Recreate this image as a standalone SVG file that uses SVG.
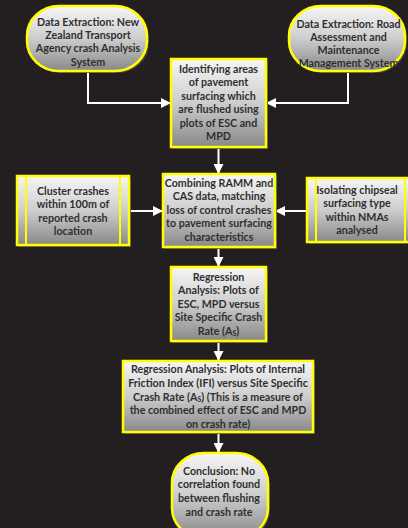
<svg xmlns="http://www.w3.org/2000/svg" width="408" height="528" viewBox="0 0 408 528">
<defs>
<linearGradient id="g" x1="0" y1="0" x2="0" y2="1">
<stop offset="0" stop-color="#f6f6f6"/>
<stop offset="0.5" stop-color="#cdcdcd"/>
<stop offset="1" stop-color="#888888"/>
</linearGradient>
<marker id="ah" viewBox="0 0 10 10" refX="10" refY="5" markerWidth="5" markerHeight="5" orient="auto" markerUnits="strokeWidth">
<path d="M0 0 L10 5 L0 10 Z" fill="#ffffff"/>
</marker>
<style>
.box{fill:url(#g);stroke:#ffff00;stroke-width:2.5}
.sh{fill:#474747}
.div{stroke:#ffff00;stroke-width:2}
.t{font-family:Lato,"Liberation Sans",sans-serif;font-weight:bold;font-size:10.7px;fill:#2f2f2f;text-anchor:middle}
.sub{font-size:7px}
.c{fill:none;stroke:#ffffff;stroke-width:2;marker-end:url(#ah)}
</style>
</defs>
<rect width="408" height="528" fill="#231f20"/>
<g id="connectors">
<path class="c" d="M88 71 V103 H171"/>
<path class="c" d="M348 71 V103 H266"/>
<path class="c" d="M218.5 147 V174"/>
<path class="c" d="M129 211 H163"/>
<path class="c" d="M307 211 H275"/>
<path class="c" d="M218.5 247 V267"/>
<path class="c" d="M218.5 341 V361"/>
<path class="c" d="M218.5 432 V453"/>
</g>
<g id="n1">
<rect class="sh" x="29" y="8" width="120" height="65" rx="32" ry="30"/>
<rect class="box" x="27" y="6" width="120" height="65" rx="32" ry="30"/>
<text class="t" x="88" y="25.8"><tspan x="88">Data Extraction: New</tspan><tspan x="88" dy="13.3">Zealand Transport</tspan><tspan x="88" dy="13.3">Agency crash Analysis</tspan><tspan x="88" dy="13.3">System</tspan></text>
</g>
<g id="n2">
<rect class="sh" x="291" y="8" width="116" height="65" rx="32" ry="30"/>
<rect class="box" x="289" y="6" width="116" height="65" rx="32" ry="30"/>
<text class="t" x="348.5" y="27.8"><tspan x="348.5">Data Extraction: Road</tspan><tspan x="348.5" dy="13.1">Assessment and</tspan><tspan x="348.5" dy="13.1">Maintenance</tspan><tspan x="348.5" dy="13.1">Management System</tspan></text>
</g>
<g id="n3">
<rect class="sh" x="173" y="61" width="95" height="88"/>
<rect class="box" x="171" y="59" width="95" height="88"/>
<text class="t" x="218.5" y="72.8"><tspan x="218.5">Identifying areas</tspan><tspan x="218.5" dy="13.5">of pavement</tspan><tspan x="218.5" dy="13.5">surfacing which</tspan><tspan x="218.5" dy="13.5">are flushed using</tspan><tspan x="218.5" dy="13.5">plots of ESC and</tspan><tspan x="218.5" dy="13.5">MPD</tspan></text>
</g>
<g id="n4">
<rect class="sh" x="165" y="176" width="112" height="73"/>
<rect class="box" x="163" y="174" width="112" height="73"/>
<text class="t" x="219" y="186.8"><tspan x="219">Combining RAMM and</tspan><tspan x="219" dy="13.5">CAS data, matching</tspan><tspan x="219" dy="13.5">loss of control crashes</tspan><tspan x="219" dy="13.5">to pavement surfacing</tspan><tspan x="219" dy="13.5">characteristics</tspan></text>
</g>
<g id="n5">
<rect class="sh" x="19" y="178" width="112" height="69"/>
<rect class="box" x="17" y="176" width="112" height="69"/>
<line class="div" x1="26" y1="176" x2="26" y2="245"/>
<line class="div" x1="120" y1="176" x2="120" y2="245"/>
<text class="t" x="73" y="194.8"><tspan x="73">Cluster crashes</tspan><tspan x="73" dy="13.4">within 100m of</tspan><tspan x="73" dy="13.4">reported crash</tspan><tspan x="73" dy="13.4">location</tspan></text>
</g>
<g id="n6">
<rect class="sh" x="309" y="180" width="106" height="64"/>
<rect class="box" x="307" y="178" width="106" height="64"/>
<line class="div" x1="316" y1="178" x2="316" y2="242"/>
<line class="div" x1="405" y1="178" x2="405" y2="242"/>
<text class="t" x="357" y="193.8"><tspan x="357">Isolating chipseal</tspan><tspan x="357" dy="13.4">surfacing type</tspan><tspan x="357" dy="13.4">within NMAs</tspan><tspan x="357" dy="13.4">analysed</tspan></text>
</g>
<g id="n7">
<rect class="sh" x="173" y="269" width="95" height="74"/>
<rect class="box" x="171" y="267" width="95" height="74"/>
<text class="t" x="218.5" y="280.8"><tspan x="218.5">Regression</tspan><tspan x="218.5" dy="13.5">Analysis: Plots of</tspan><tspan x="218.5" dy="13.5">ESC, MPD versus</tspan><tspan x="218.5" dy="13.5">Site Specific Crash</tspan><tspan x="218.5" dy="13.5">Rate (A<tspan class="sub" dy="1.5">S</tspan><tspan dy="-1.5">)</tspan></tspan></text>
</g>
<g id="n8">
<rect class="sh" x="125" y="363" width="190" height="71"/>
<rect class="box" x="123" y="361" width="190" height="71"/>
<text class="t" x="218" y="373.3"><tspan x="218">Regression Analysis: Plots of Internal</tspan><tspan x="218" dy="13.6">Friction Index (IFI) versus Site Specific</tspan><tspan x="218" dy="13.6">Crash Rate (A<tspan class="sub" dy="1.5">S</tspan><tspan dy="-1.5">) (This is a measure of</tspan></tspan><tspan x="218" dy="13.6">the combined effect of ESC and MPD</tspan><tspan x="218" dy="13.6">on crash rate)</tspan></text>
</g>
<g id="n9">
<rect class="sh" x="174" y="455" width="96" height="85" rx="32" ry="30"/>
<rect class="box" x="172" y="453" width="96" height="85" rx="32" ry="30"/>
<text class="t" x="219" y="474.8"><tspan x="219">Conclusion: No</tspan><tspan x="219" dy="13.6">correlation found</tspan><tspan x="219" dy="13.6">between flushing</tspan><tspan x="219" dy="13.6">and crash rate</tspan></text>
</g>
</svg>
